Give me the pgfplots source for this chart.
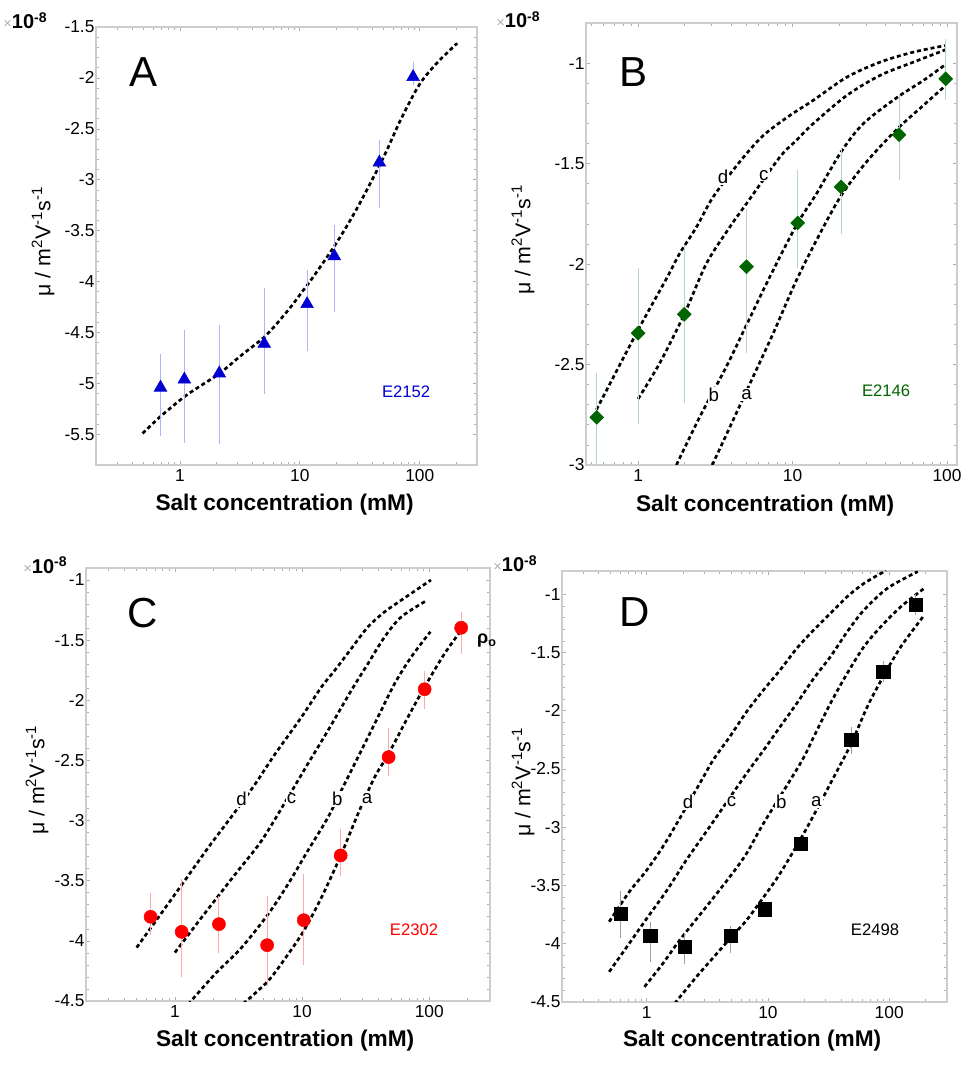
\documentclass[border=0pt]{standalone}
\usepackage{fontspec}
\setmainfont{Liberation Sans}
\usepackage{pgfplots}
\pgfplotsset{compat=1.18}

\definecolor{boxgray}{RGB}{205,205,205}
\definecolor{tickgray}{RGB}{175,175,175}
\definecolor{ablue}{RGB}{0,0,210}
\definecolor{ablueerr}{RGB}{170,180,255}
\definecolor{bgreen}{RGB}{0,100,0}
\definecolor{bgreenerr}{RGB}{185,215,185}
\definecolor{cred}{RGB}{255,0,0}
\definecolor{crederr}{RGB}{255,170,170}
\definecolor{derr}{RGB}{160,160,160}

\pgfplotsset{
  every axis/.append style={
    scale only axis, clip mode=individual,
    axis line style={draw=boxgray, line width=1.3pt},
    tick style={draw=tickgray, line width=0.5pt},
    major tick length=3pt, minor tick length=2pt,
    tick align=inside,
    xtick={1,10,100}, xticklabels={1,10,100},
    minor y tick num=4,
    ticklabel style={font=\fontsize{13pt}{15pt}\selectfont},
    yticklabel style={inner xsep=1pt},
    xlabel={Salt concentration (mM)},
    xlabel style={font=\fontsize{17pt}{19pt}\selectfont\bfseries, anchor=base},
    ylabel={μ / m\textsuperscript{2}V\textsuperscript{-1}s\textsuperscript{-1}},
    ylabel style={font=\fontsize{16pt}{18pt}\selectfont, anchor=center},
  },
  fitline/.style={black, line width=2pt, dash pattern=on 3pt off 2.2pt, no marks, smooth, tension=0.5},
}
\tikzset{
  clab/.style={fill=white, inner sep=0.8pt, font=\fontsize{14pt}{16pt}\selectfont},
  xten/.style={anchor=base east, font=\fontsize{15pt}{17pt}\selectfont},
  letter/.style={anchor=base west, font=\fontsize{31.5pt}{34pt}\selectfont},
  elab/.style={anchor=base, font=\fontsize{12.5pt}{14pt}\selectfont},
}
\newcommand{\xten}{{\color{tickgray}\fontsize{11pt}{13pt}\selectfont ×}\textbf{10\textsuperscript{-8}}}

\begin{document}
\begin{tikzpicture}
\useasboundingbox (0,0) rectangle (720pt,802.5pt);

% ---------------- Panel A ----------------
\begin{axis}[xmode=log, at={(72pt,453.75pt)}, anchor=south west,
  width=285.75pt, height=328.5pt,
  xmin=0.2, xmax=300, ymin=-5.8, ymax=-1.5,
  minor xtick={0.2,0.3,0.4,0.5,0.6,0.7,0.8,0.9,2,3,4,5,6,7,8,9,20,30,40,50,60,70,80,90,200,300},
  ytick={-5.5,-5,-4.5,-4,-3.5,-3,-2.5,-2,-1.5},
  yticklabels={-5.5,-5,-4.5,-4,-3.5,-3,-2.5,-2,-1.5},
  xlabel style={at={(axis description cs:0.495,-0.103)}},
  ylabel style={at={(axis description cs:-0.139,0.51)}},
]
\addplot[fitline] coordinates {
 (0.489,-5.49) (0.68,-5.33) (1.09,-5.13) (1.5,-5.02) (2.15,-4.90) (3.2,-4.73)
 (5.2,-4.53) (8,-4.28) (10.3,-4.11) (13,-3.95) (20.2,-3.62) (30,-3.28)
 (48.9,-2.80) (70,-2.40) (100,-2.06) (140,-1.85) (205,-1.66)};
\addplot[ablue, only marks, mark=triangle*, mark size=5.5pt,
  error bars/.cd, y dir=both, y explicit,
  error bar style={draw=ablueerr, line width=0.8pt},
  error mark options={draw=ablueerr, line width=0.8pt, mark size=2pt}]
 coordinates {
 (0.69,-5.04) += (0,0.30) -= (0,0.45)
 (1.09,-4.96) += (0,0.46) -= (0,0.60)
 (2.13,-4.90) += (0,0.445) -= (0,0.67)
 (5.05,-4.61) += (0,0.52) -= (0,0.47)
 (11.5,-4.22) += (0,0.31) -= (0,0.43)
 (19.4,-3.75) += (0,0.28) -= (0,0.52)
 (46,-2.83) += (0,0.19) -= (0,0.42)
 (88,-1.99) += (0,0.12) -= (0,0.05)};
\node[xten, xshift=-33pt, yshift=-1.5pt] at (rel axis cs:0,1) {\xten};
\node[letter, xshift=21.75pt, yshift=-45pt] at (rel axis cs:0,1) {A};
\node[elab, text=ablue] at (rel axis cs:0.814,0.153) {E2152};
\end{axis}

% ---------------- Panel B ----------------
\begin{axis}[xmode=log, at={(439.5pt,453.75pt)}, anchor=south west,
  width=278.25pt, height=331.5pt,
  xmin=0.46, xmax=116, ymin=-3, ymax=-0.8,
  minor xtick={0.5,0.6,0.7,0.8,0.9,2,3,4,5,6,7,8,9,20,30,40,50,60,70,80,90},
  ytick={-3,-2.5,-2,-1.5,-1},
  yticklabels={-3,-2.5,-2,-1.5,-1},
  xlabel style={at={(axis description cs:0.483,-0.106)}},
  ylabel style={at={(axis description cs:-0.170,0.51)}},
]
\addplot[fitline] coordinates {
 (0.537,-2.725) (1,-2.328) (1.53,-2.071) (1.86,-1.947) (2.39,-1.815) (3.06,-1.666)
 (4.56,-1.49) (6.46,-1.36) (9.61,-1.26) (13.6,-1.185) (22.4,-1.07) (36.8,-0.995)
 (60.5,-0.945) (98,-0.912)};
\addplot[fitline] coordinates {
 (1,-2.671) (1.38,-2.493) (1.99,-2.25) (2.77,-1.997) (3.93,-1.815) (5.03,-1.699)
 (8.28,-1.467) (10.6,-1.384) (13.6,-1.301) (22.4,-1.161) (36.8,-1.061) (60.5,-0.995)
 (98,-0.933)};
\addplot[fitline] coordinates {
 (1.77,-3.0) (2.51,-2.76) (3.73,-2.51) (5.03,-2.303) (7.13,-2.063) (10.6,-1.806)
 (14.3,-1.649) (20.6,-1.442) (28.7,-1.301) (47.2,-1.172) (70.3,-1.086) (98,-1.006)};
\addplot[fitline] coordinates {
 (3.02,-3.0) (4.13,-2.775) (5.56,-2.56) (7.5,-2.344) (10.6,-2.08) (15,-1.85)
 (20.6,-1.66) (30.2,-1.49) (47.2,-1.33) (70.3,-1.21) (95,-1.12)};
\addplot[bgreen, only marks, mark=square*, mark size=3.7pt, mark options={rotate=45},
  error bars/.cd, y dir=both, y explicit,
  error bar style={draw=bgreenerr, line width=0.8pt},
  error mark options={draw=bgreenerr, line width=0.8pt, mark size=2pt, rotate=0}]
 coordinates {
 (0.54,-2.763) += (0,0.21) -= (0,0.22)
 (1.0,-2.344) += (0,0.31) -= (0,0.44)
 (1.99,-2.25) += (0,0.33) -= (0,0.43)
 (5.03,-2.013) += (0,0.276) -= (0,0.414)
 (10.8,-1.795) += (0,0.249) -= (0,0.21)
 (20.6,-1.616) += (0,0.176) -= (0,0.22)
 (48.9,-1.356) += (0,0.182) -= (0,0.21)
 (98,-1.078) += (0,0.186) -= (0,0.094)};
\node[clab] at (axis cs:3.55,-1.566) {d};
\node[clab] at (axis cs:6.52,-1.558) {c};
\node[clab] at (axis cs:3.09,-2.65) {b};
\node[clab] at (axis cs:5.03,-2.65) {a};
\node[xten, xshift=-30.75pt, yshift=-3.75pt] at (rel axis cs:0,1) {\xten};
\node[letter, xshift=21.75pt, yshift=-48pt] at (rel axis cs:0,1) {B};
\node[elab, text=bgreen] at (rel axis cs:0.809,0.154) {E2146};
\end{axis}

% ---------------- Panel C ----------------
\begin{axis}[xmode=log, at={(64.5pt,51.75pt)}, anchor=south west,
  width=303pt, height=324.75pt,
  xmin=0.2, xmax=300, ymin=-4.5, ymax=-0.9,
  minor xtick={0.2,0.3,0.4,0.5,0.6,0.7,0.8,0.9,2,3,4,5,6,7,8,9,20,30,40,50,60,70,80,90,200,300},
  ytick={-4.5,-4,-3.5,-3,-2.5,-2,-1.5,-1},
  yticklabels={-4.5,-4,-3.5,-3,-2.5,-2,-1.5,-1},
  xlabel style={at={(axis description cs:0.493,-0.106)}},
  ylabel style={at={(axis description cs:-0.121,0.51)}},
]
\addplot[fitline] coordinates {
 (0.5,-4.056) (0.74,-3.806) (1.13,-3.535) (1.83,-3.224) (2.96,-2.93) (4.25,-2.70)
 (6.1,-2.45) (9.88,-2.14) (14.2,-1.889) (18.1,-1.75) (24.4,-1.569) (33,-1.389)
 (44.6,-1.264) (60.3,-1.167) (103,-1.0)};
\addplot[fitline] coordinates {
 (1,-4.097) (1.62,-3.806) (2.96,-3.45) (4.8,-3.167) (7.76,-2.806) (11.1,-2.528)
 (16,-2.25) (24.4,-1.917) (33,-1.694) (44.6,-1.472) (60.3,-1.306) (94.7,-1.172)};
\addplot[fitline] coordinates {
 (1.27,-4.528) (2.06,-4.278) (3.34,-4.056) (5.41,-3.778) (7.76,-3.528) (11.1,-3.25)
 (16,-2.972) (21.6,-2.694) (29.2,-2.417) (39.5,-2.139) (53.4,-1.861) (72.2,-1.639)
 (102,-1.43)};
\addplot[fitline] coordinates {
 (3.44,-4.522) (5.41,-4.333) (7.76,-4.111) (10.3,-3.917) (14.2,-3.639) (20.1,-3.292)
 (27.5,-2.944) (37.2,-2.639) (47.9,-2.444) (68,-2.139) (91.9,-1.889) (132,-1.611)
 (195,-1.361)};
\addplot[cred, only marks, mark=*, mark size=4.9pt,
  error bars/.cd, y dir=both, y explicit,
  error bar style={draw=crederr, line width=0.8pt},
  error mark options={draw=crederr, line width=0.8pt, mark size=2pt}]
 coordinates {
 (0.644,-3.80) += (0,0.175) -= (0,0.13)
 (1.13,-3.925) += (0,0.415) -= (0,0.355)
 (2.22,-3.861) += (0,0.211) -= (0,0.219)
 (5.31,-4.036) += (0,0.386) -= (0,0.314)
 (10.3,-3.828) += (0,0.358) -= (0,0.347)
 (20.1,-3.29) += (0,0.20) -= (0,0.15)
 (47.9,-2.472) += (0,0.216) -= (0,0.134)
 (91.9,-1.908) += (0,0.13) -= (0,0.139)
 (178,-1.397) += (0,0.107) -= (0,0.193)};
\node[clab] at (axis cs:3.34,-2.82) {d};
\node[clab] at (axis cs:8.25,-2.82) {c};
\node[clab] at (axis cs:18.9,-2.82) {b};
\node[clab] at (axis cs:32.4,-2.82) {a};
\node[anchor=west, inner sep=0pt, font=\fontsize{13.5pt}{15pt}\selectfont\bfseries] at (axis cs:237,-1.5) {ρ\textsubscript{o}};
\node[xten, xshift=-10.5pt, yshift=-3.75pt] at (rel axis cs:0,1) {\xten};
\node[letter, xshift=27.75pt, yshift=-44.25pt] at (rel axis cs:0,1) {C};
\node[elab, text=cred] at (rel axis cs:0.812,0.152) {E2302};
\end{axis}

% ---------------- Panel D ----------------
\begin{axis}[xmode=log, at={(421.5pt,51pt)}, anchor=south west,
  width=288.75pt, height=323.25pt,
  xmin=0.2, xmax=300, ymin=-4.5, ymax=-0.8,
  minor xtick={0.2,0.3,0.4,0.5,0.6,0.7,0.8,0.9,2,3,4,5,6,7,8,9,20,30,40,50,60,70,80,90,200,300},
  ytick={-4.5,-4,-3.5,-3,-2.5,-2,-1.5,-1},
  yticklabels={-4.5,-4,-3.5,-3,-2.5,-2,-1.5,-1},
  xlabel style={at={(axis description cs:0.494,-0.104)}},
  ylabel style={at={(axis description cs:-0.101,0.51)}},
]
\addplot[fitline] coordinates {
 (0.49,-3.811) (0.718,-3.554) (1,-3.368) (1.47,-3.11) (2.74,-2.623) (3.53,-2.423)
 (4.85,-2.222) (6.67,-2.008) (9.18,-1.822) (12.6,-1.65) (17.3,-1.464) (23.9,-1.306)
 (32.8,-1.163) (45.1,-1.02) (62,-0.906) (93.8,-0.797)};
\addplot[fitline] coordinates {
 (0.49,-4.241) (0.718,-3.997) (1,-3.783) (1.47,-3.54) (2.12,-3.282) (3.31,-2.995)
 (6.67,-2.537) (9.18,-2.34) (12.6,-2.137) (17.3,-1.936) (23.9,-1.721) (32.8,-1.535)
 (45.1,-1.321) (62,-1.135) (96.8,-0.948) (172,-0.805)};
\addplot[fitline] coordinates {
 (0.957,-4.37) (1.36,-4.169) (1.87,-3.969) (3.1,-3.682) (4.85,-3.425) (6.67,-3.224)
 (9.18,-2.967) (18.5,-2.452) (23.9,-2.222) (32.8,-1.936) (45.1,-1.678) (62,-1.449)
 (85.3,-1.278) (125,-1.106) (195,-0.948)};
\addplot[fitline] coordinates {
 (1.7,-4.513) (2.57,-4.284) (3.53,-4.12) (4.92,-3.95) (6.67,-3.797) (9.47,-3.582)
 (12.6,-3.396) (18.7,-3.096) (23.9,-2.895) (32.8,-2.623) (48.7,-2.28) (66,-1.965)
 (89.2,-1.707) (125,-1.449) (195,-1.178)};
\addplot[black, only marks, mark=square*, mark size=5pt,
  error bars/.cd, y dir=both, y explicit,
  error bar style={draw=derr, line width=0.8pt},
  error mark options={draw=derr, line width=0.8pt, mark size=2pt}]
 coordinates {
 (0.61,-3.74) += (0,0.17) -= (0,0.19)
 (1.07,-3.934) += (0,0.10) -= (0,0.196)
 (2.05,-4.026) += (0,0.096) -= (0,0.124)
 (4.92,-3.934) += (0,0.064) -= (0,0.126)
 (9.47,-3.705) += (0,0.03) -= (0,0.03)
 (18.7,-3.144) += (0,0.03) -= (0,0.03)
 (48.7,-2.251) += (0,0.09) -= (0,0.10)
 (89.2,-1.664) += (0,0.07) -= (0,0.07)
 (166,-1.092) += (0,0.07) -= (0,0.06)};
\node[clab] at (axis cs:2.19,-2.78) {d};
\node[clab] at (axis cs:5.0,-2.78) {c};
\node[clab] at (axis cs:12.9,-2.78) {b};
\node[clab] at (axis cs:25.1,-2.78) {a};
\node[xten, xshift=-15pt, yshift=-0.75pt] at (rel axis cs:0,1) {\xten};
\node[letter, xshift=39.75pt, yshift=-42pt] at (rel axis cs:0,1) {D};
\node[elab, text=black] at (rel axis cs:0.813,0.155) {E2498};
\end{axis}
\end{tikzpicture}
\end{document}
